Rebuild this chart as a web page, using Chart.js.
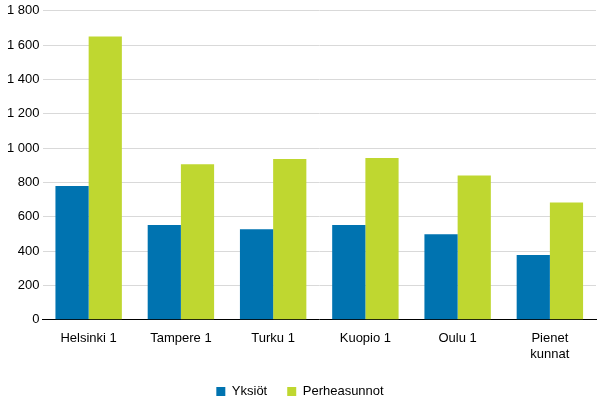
<!DOCTYPE html>
<html><head><meta charset="utf-8">
<script src="https://cdn.jsdelivr.net/npm/chart.js@4"></script>
<style>body{margin:0;background:#fff}#w{width:614px;height:408px}</style>
</head><body><div id="w"><canvas id="c"></canvas></div>
<script>
const categories=[["Helsinki 1"],["Tampere 1"],["Turku 1"],["Kuopio 1"],["Oulu 1"],["Pienet","kunnat"]];
const yksiot=[780,552,528,552,498,378];
const perheasunnot=[1650,906,936,942,840,684];
Chart.defaults.font.family="Arial, 'Liberation Sans', sans-serif";
Chart.defaults.font.size=13;
Chart.defaults.color="#000";
new Chart(document.getElementById('c'),{type:'bar',
data:{labels:categories,datasets:[
{label:'Yksiöt',data:yksiot,backgroundColor:'#0073b0',categoryPercentage:0.72,barPercentage:1},
{label:'Perheasunnot',data:perheasunnot,backgroundColor:'#bfd730',categoryPercentage:0.72,barPercentage:1}]},
options:{responsive:true,maintainAspectRatio:false,animation:false,
layout:{padding:{top:10,right:18,left:4,bottom:0}},
plugins:{legend:{position:'bottom',labels:{boxWidth:9,boxHeight:9,padding:20}},tooltip:{enabled:false}},
scales:{x:{grid:{display:false},border:{color:'#000'},ticks:{maxRotation:0}},
y:{min:0,max:1800,ticks:{stepSize:200,callback:v=>v>=1000?String(v).replace(/(\d)(\d{3})$/,'$1 $2'):v},
grid:{color:'#d9d9d9',drawTicks:false},border:{display:false}}}}});
</script></body></html>
